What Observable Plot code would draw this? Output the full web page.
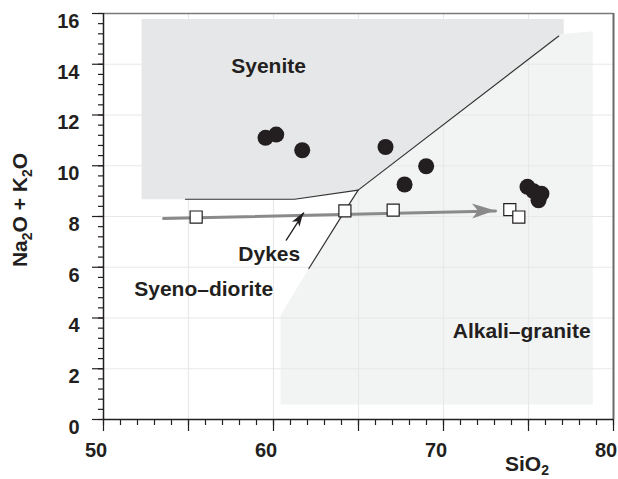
<!DOCTYPE html>
<html>
<head>
<meta charset="utf-8">
<script src="https://cdn.jsdelivr.net/npm/d3@7"></script>
<script src="https://cdn.jsdelivr.net/npm/@observablehq/plot@0.6"></script>
<style>
  html, body { margin: 0; padding: 0; background: #fff; }
  #chart svg { display: block; }
</style>
</head>
<body>
<div id="chart"></div>
<script>
// ---- data ----
const xDomain = [50, 80];
const yDomain = [0, 16];
const xLabelTicks = [50, 60, 70, 80];
const xMajorTicks = [50, 55, 60, 65, 70, 75, 80];
const yLabelTicks = [0, 2, 4, 6, 8, 10, 12, 14, 16];
const xGrid = [55, 60, 65, 70, 75];
const yGrid = [2, 4, 6, 8, 10, 12, 14];

// field polygons
const syeniteX = [52.24, 77.07, 77.07, 76.78, 64.98, 61.24, 52.24];
const syeniteY = [15.78, 15.78, 15.10, 15.11, 9.04, 8.68, 8.68];
const alkaliX = [76.78, 76.88, 78.78, 78.78, 60.41, 60.41, 62.08, 64.20, 64.98];
const alkaliY = [15.11, 15.18, 15.30, 0.59, 0.59, 4.11, 5.95, 8.22, 9.04];

// field boundaries
const boundAX = [54.82, 61.24, 64.98, 76.78];
const boundAY = [8.68, 8.68, 9.04, 15.11];
const boundBX = [64.98, 64.20, 62.08];
const boundBY = [9.04, 8.22, 5.95];

// samples: filled circles (granite / syenite) and open squares (dykes)
const circleX = [59.53, 60.16, 61.69, 66.59, 67.71, 68.98, 74.94, 75.29, 75.76, 75.59];
const circleY = [11.10, 11.23, 10.61, 10.74, 9.26, 9.98, 9.17, 9.00, 8.90, 8.64];
const squareX = [55.45, 64.20, 67.04, 73.90, 74.43];
const squareY = [7.98, 8.22, 8.25, 8.27, 7.98];

// arrows
const trendX = [53.53, 73.06];
const trendY = [7.92, 8.22];
const dykeArrowX = [60.75, 61.78];
const dykeArrowY = [7.07, 8.14];

// region labels
const labelText = ["Syenite", "Dykes", "Syeno\u2013diorite", "Alkali\u2013granite"];
const labelX = [59.71, 59.75, 55.89, 74.60];
const labelY = [13.93, 6.51, 5.13, 3.47];

// ---- helpers ----
const pts = (xs, ys) => xs.map((x, i) => ({x, y: ys[i]}));
const ink = "#231f20";
const font = "'Liberation Sans', Arial, Helvetica, sans-serif";

const chart = Plot.plot({
  width: 618,
  height: 479,
  marginLeft: 103,
  marginRight: 5,
  marginTop: 13,
  marginBottom: 60,
  x: {domain: xDomain},
  y: {domain: yDomain},
  style: {fontFamily: font, fontWeight: "bold", fontSize: "20px", color: ink, background: "white"},
  marks: [
    Plot.line(pts(syeniteX, syeniteY), {x: "x", y: "y", fill: "#e6e7e8", stroke: "none"}),
    Plot.line(pts(alkaliX, alkaliY), {x: "x", y: "y", fill: "#f2f3f3", stroke: "none"}),
    Plot.gridX({ticks: xGrid, stroke: "#e8e8e8", strokeOpacity: 1, strokeWidth: 1.2}),
    Plot.gridY({ticks: yGrid, stroke: "#e8e8e8", strokeOpacity: 1, strokeWidth: 1.2}),
    Plot.line(pts(boundAX, boundAY), {x: "x", y: "y", stroke: "#333", strokeWidth: 1.2}),
    Plot.line(pts(boundBX, boundBY), {x: "x", y: "y", stroke: "#333", strokeWidth: 1.2}),
    Plot.line(pts(trendX, trendY), {x: "x", y: "y", stroke: "#8a8a8a", strokeWidth: 3}),
    Plot.line(pts(dykeArrowX, dykeArrowY), {x: "x", y: "y", stroke: ink, strokeWidth: 1.3}),
    Plot.dot(pts(squareX, squareY), {x: "x", y: "y", symbol: "square", r: 6.8, fill: "white", stroke: ink, strokeWidth: 1.2}),
    Plot.dot(pts(circleX, circleY), {x: "x", y: "y", r: 8, fill: ink, stroke: "none"}),
    Plot.text(labelText, {x: labelX, y: labelY, text: d => d, fontSize: 21, fontWeight: "bold", fill: ink, textAnchor: "middle", lineAnchor: "middle"}),
    // axes: ticks
    Plot.axisX({ticks: d3.range(50, 80.01, 1), tickSize: 6, fill: "none", stroke: ink, strokeWidth: 1.2, label: null}),
    Plot.axisX({ticks: xMajorTicks, tickSize: 12, fill: "none", stroke: ink, strokeWidth: 1.2, label: null}),
    Plot.axisY({ticks: d3.range(0, 16.01, 0.4), tickSize: 5, fill: "none", stroke: ink, strokeWidth: 1.2, label: null}),
    Plot.axisY({ticks: yLabelTicks, tickSize: 11, fill: "none", stroke: ink, strokeWidth: 1.2, label: null}),
    // axes: labels
    Plot.axisX({ticks: xLabelTicks, tickSize: 0, tickPadding: 23, dx: -7.5, fontSize: 20, fontWeight: "bold", fill: ink, label: null}),
    Plot.axisY({ticks: yLabelTicks, tickSize: 0, tickPadding: 24, dy: 8, fontSize: 20, fontWeight: "bold", fill: ink, label: null}),
    // frame
    Plot.ruleY([yDomain[1]], {stroke: "#7a7a7a", strokeWidth: 1.6}),
    Plot.ruleX([xDomain[1]], {stroke: "#6a6a6a", strokeWidth: 2}),
    Plot.ruleX([xDomain[0]], {stroke: ink, strokeWidth: 1.5}),
    Plot.ruleY([yDomain[0]], {stroke: ink, strokeWidth: 1.5})
  ]
});

document.getElementById("chart").appendChild(chart);

// arrowheads, positioned through Plot's scales
const sx = chart.scale("x"), sy = chart.scale("y");
const svg = d3.select(chart);
function head(xs, ys, len, hw, notch, color) {
  const x1 = sx.apply(xs[0]), y1 = sy.apply(ys[0]);
  const x2 = sx.apply(xs[1]), y2 = sy.apply(ys[1]);
  const dx = x2 - x1, dy = y2 - y1, L = Math.hypot(dx, dy);
  const ux = dx / L, uy = dy / L, px = -uy, py = ux;
  const bx = x2 - ux * len, by = y2 - uy * len;
  const nx = x2 - ux * (len - notch), ny = y2 - uy * (len - notch);
  const p = [[x2, y2], [bx + px * hw, by + py * hw], [nx, ny], [bx - px * hw, by - py * hw]];
  svg.append("path").attr("d", "M" + p.map(q => q.join(",")).join("L") + "Z").attr("fill", color);
}
head(trendX, trendY, 23, 7.5, 6, "#8a8a8a");
head(dykeArrowX, dykeArrowY, 14, 4.5, 3.5, ink);

// axis titles with subscripts
const xt = svg.append("text").attr("x", 527).attr("y", 471).attr("text-anchor", "middle")
  .attr("font-size", 21).attr("font-weight", "bold").attr("fill", ink).attr("font-family", font);
xt.append("tspan").text("SiO");
xt.append("tspan").attr("font-size", 14).attr("dy", 4).text("2");

const yt = svg.append("text").attr("transform", "translate(27,210) rotate(-90)").attr("text-anchor", "middle")
  .attr("font-size", 21).attr("font-weight", "bold").attr("fill", ink).attr("font-family", font);
yt.append("tspan").text("Na");
yt.append("tspan").attr("font-size", 14).attr("dy", 5).text("2");
yt.append("tspan").attr("dy", -5).text("O + K");
yt.append("tspan").attr("font-size", 14).attr("dy", 5).text("2");
yt.append("tspan").attr("dy", -5).text("O");
</script>
</body>
</html>
